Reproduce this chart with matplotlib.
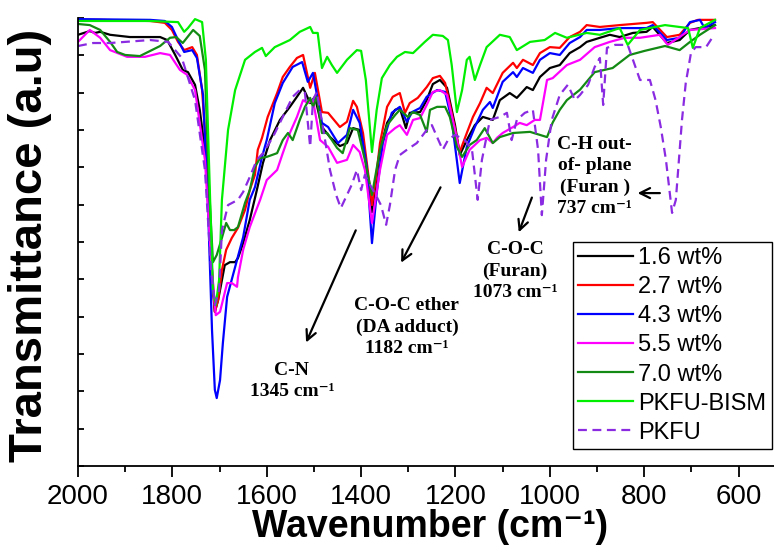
import matplotlib
matplotlib.use("Agg")
import matplotlib.pyplot as plt
from matplotlib.ticker import MultipleLocator

plt.rcParams['font.family'] = ['Liberation Sans', 'DejaVu Sans']

# FTIR spectra: wavenumber (cm-1) and transmittance (a.u.)
wn_16 = [2000, 1975, 1964, 1953, 1932, 1890, 1826, 1811, 1794, 1778, 1767, 1752, 1742, 1731, 1720,
         1714, 1710, 1703, 1699, 1689, 1678, 1667, 1661, 1650, 1636, 1621, 1608, 1593, 1572, 1551,
         1536, 1523, 1508, 1498, 1483, 1466, 1445, 1430, 1417, 1403, 1392, 1377, 1360, 1345, 1328,
         1318, 1305, 1297, 1275, 1261, 1248, 1233, 1218, 1201, 1191, 1176, 1159, 1142, 1121, 1106,
         1085, 1070, 1049, 1036, 1021, 1000, 979, 958, 936, 922, 894, 873, 852, 824, 795, 782, 752,
         725, 703, 650]
t_16 = [115.5, 116.5, 116.0, 116.3, 115.5, 114.9, 114.9, 114.1, 110.1, 106.1, 105.5, 102.1, 95.4, 84.7, 63.2,
        47.1, 41.3, 44.5, 47.1, 53.8, 54.6, 54.6, 55.7, 59.7, 65.9, 73.9, 81.2, 87.3, 92.7, 96.2,
        98.9, 101.3, 97.2, 98.9, 90.8, 88.1, 85.7, 86.5, 90.5, 90.0, 83.8, 68.0, 84.7, 91.9, 95.4,
        95.9, 90.5, 94.6, 94.8, 98.0, 102.3, 103.4, 101.3, 91.3, 83.3, 87.3, 91.3, 93.5, 92.7, 98.0,
        99.9, 98.6, 101.5, 100.7, 104.2, 106.6, 107.4, 110.6, 112.2, 113.6, 114.7, 115.5, 114.9, 116.0, 116.3, 117.6, 113.3,
        114.1, 116.8, 118.1]

wn_27 = [2000, 1953, 1847, 1816, 1801, 1788, 1775, 1758, 1748, 1737, 1727, 1716, 1710, 1703, 1695,
         1686, 1674, 1661, 1646, 1636, 1625, 1619, 1610, 1598, 1578, 1566, 1551, 1536, 1523, 1508,
         1498, 1483, 1470, 1445, 1430, 1417, 1409, 1396, 1386, 1377, 1369, 1360, 1345, 1333, 1318,
         1307, 1297, 1280, 1261, 1248, 1233, 1222, 1208, 1191, 1176, 1163, 1148, 1134, 1121, 1100,
         1078, 1070, 1057, 1036, 1021, 1000, 979, 958, 936, 922, 894, 852, 795, 782, 752, 725, 703,
         686, 650]
t_27 = [119.5, 119.5, 119.2, 118.7, 116.8, 113.6, 111.4, 112.2, 110.1, 100.7, 82.0, 52.5, 41.3, 44.5, 52.5,
        57.9, 61.1, 63.8, 68.6, 73.9, 78.0, 84.7, 87.9, 93.5, 99.9, 104.2, 106.9, 109.3, 110.1, 101.3,
        105.3, 94.8, 94.6, 90.8, 92.2, 97.8, 96.2, 89.2, 79.3, 69.9, 76.6, 86.5, 96.2, 98.9, 99.9,
        94.6, 97.2, 98.6, 101.5, 103.9, 104.5, 102.6, 94.6, 84.1, 89.2, 93.5, 97.2, 101.3, 99.9, 105.3,
        108.0, 106.6, 108.8, 107.4, 110.6, 112.2, 112.0, 114.9, 116.3, 118.1, 117.6, 118.1, 118.7, 118.9, 114.9, 115.5, 118.7,
        119.5, 119.5]

wn_43 = [2000, 1847, 1816, 1801, 1788, 1775, 1758, 1748, 1735, 1725, 1716, 1710, 1706, 1699, 1693,
         1684, 1667, 1650, 1636, 1625, 1610, 1600, 1583, 1566, 1545, 1525, 1513, 1502, 1483, 1470,
         1449, 1430, 1417, 1403, 1388, 1377, 1367, 1354, 1335, 1318, 1303, 1292, 1275, 1261, 1239,
         1222, 1208, 1191, 1176, 1159, 1142, 1127, 1121, 1100, 1078, 1070, 1057, 1036, 1021, 1000,
         979, 958, 936, 922, 894, 852, 795, 782, 752, 725, 703, 682, 672, 650]
t_43 = [119.7, 119.5, 119.2, 117.6, 114.1, 110.9, 111.4, 109.3, 99.4, 71.3, 36.4, 20.4, 18.2, 23.0, 32.9,
        45.3, 53.3, 61.3, 71.3, 74.7, 82.8, 87.3, 97.2, 102.6, 106.9, 108.2, 102.9, 105.3, 91.9, 90.8,
        86.5, 88.7, 95.4, 91.9, 80.1, 59.7, 73.1, 86.5, 94.6, 96.2, 92.2, 94.8, 95.9, 98.9, 100.7,
        100.2, 92.7, 75.8, 85.5, 90.8, 95.4, 97.5, 95.9, 102.9, 105.5, 104.2, 106.6, 105.3, 108.8, 110.6,
        110.1, 113.3, 114.9, 116.8, 116.8, 117.3, 117.3, 118.1, 114.1, 114.7, 118.9, 119.5, 117.3, 118.9]

wn_55 = [2000, 1975, 1953, 1932, 1896, 1858, 1826, 1805, 1784, 1769, 1752, 1731, 1718, 1708, 1699,
         1684, 1674, 1663, 1661, 1650, 1636, 1614, 1600, 1578, 1566, 1551, 1536, 1523, 1513, 1502,
         1487, 1470, 1451, 1430, 1417, 1403, 1392, 1377, 1360, 1345, 1328, 1318, 1303, 1290, 1275,
         1261, 1248, 1233, 1218, 1201, 1186, 1170, 1148, 1134, 1121, 1112, 1100, 1078, 1064, 1049,
         1032, 1021, 1006, 994, 964, 936, 905, 873, 841, 809, 767, 750, 703, 650]
t_55 = [113.6, 116.8, 114.7, 111.4, 109.6, 109.6, 110.6, 110.1, 106.1, 104.8, 100.7, 82.0, 55.2, 40.4, 41.3,
        49.0, 49.0, 48.0, 50.6, 57.9, 64.0, 71.3, 76.6, 79.3, 83.8, 89.2, 93.5, 98.0, 97.2, 98.0,
        87.3, 85.5, 81.2, 82.0, 86.0, 84.1, 79.3, 65.1, 79.3, 88.7, 90.5, 91.3, 88.7, 92.7, 93.2,
        96.7, 100.2, 100.7, 99.4, 90.0, 80.1, 84.7, 87.3, 87.9, 86.5, 87.9, 89.2, 90.8, 91.9, 91.3,
        92.7, 92.7, 103.4, 103.9, 107.4, 108.8, 112.2, 113.6, 114.7, 114.7, 115.5, 112.8, 116.8, 117.3]

wn_70 = [2000, 1975, 1953, 1932, 1917, 1900, 1869, 1826, 1805, 1792, 1778, 1756, 1742, 1731, 1723,
         1714, 1706, 1695, 1686, 1678, 1669, 1661, 1646, 1636, 1625, 1614, 1600, 1578, 1566, 1555,
         1545, 1530, 1519, 1508, 1502, 1494, 1483, 1472, 1451, 1439, 1424, 1407, 1392, 1377, 1360,
         1345, 1328, 1318, 1301, 1290, 1275, 1261, 1254, 1239, 1222, 1212, 1197, 1186, 1170, 1155,
         1138, 1121, 1106, 1078, 1042, 1006, 994, 979, 964, 936, 905, 867, 831, 799, 756, 725, 703,
         682, 650]
t_70 = [118.4, 118.1, 116.8, 113.6, 110.9, 110.1, 109.8, 112.5, 114.7, 114.9, 113.3, 116.8, 115.2, 106.1, 76.6,
        54.6, 56.5, 61.1, 65.1, 63.2, 63.2, 64.0, 70.5, 73.9, 80.1, 82.5, 82.8, 83.8, 87.3, 89.2,
        87.3, 92.7, 96.2, 98.6, 96.2, 98.9, 89.2, 89.2, 85.2, 83.8, 90.5, 90.0, 82.0, 72.6, 84.7,
        91.3, 94.0, 95.4, 93.5, 94.8, 94.0, 89.5, 95.4, 96.2, 96.2, 93.5, 85.5, 82.8, 86.0, 87.3,
        90.5, 86.5, 88.1, 89.2, 89.5, 88.1, 92.0, 95.4, 98.0, 100.8, 105.5, 106.6, 110.1, 111.2, 112.5, 111.4, 113.6,
        115.5, 118.1]

wn_bism = [2000, 1847, 1788, 1775, 1767, 1752, 1737, 1729, 1720, 1714, 1708, 1701, 1695, 1682, 1667,
           1646, 1625, 1610, 1602, 1583, 1551, 1530, 1508, 1502, 1492, 1483, 1472, 1462, 1451, 1430,
           1409, 1400, 1390, 1377, 1367, 1356, 1339, 1324, 1307, 1290, 1265, 1248, 1227, 1216, 1208,
           1197, 1186, 1176, 1170, 1159, 1148, 1134, 1106, 1085, 1070, 1042, 1011, 989, 964, 922,
           894, 852, 835, 809, 756, 707, 697, 682, 650]
t_bism = [119.2, 119.2, 118.9, 116.3, 117.3, 119.7, 118.9, 108.8, 71.3, 47.1, 43.1, 49.8, 71.3, 90.0, 100.7,
          108.8, 110.9, 112.0, 109.8, 112.2, 114.1, 116.3, 117.6, 116.0, 116.0, 106.6, 109.6, 107.4, 105.3, 108.8,
          111.4, 111.2, 103.4, 84.1, 95.4, 103.9, 107.4, 109.6, 110.9, 110.6, 113.6, 115.5, 115.2, 114.1, 107.4,
          94.8, 100.7, 108.8, 109.6, 103.4, 107.4, 112.2, 115.5, 114.9, 111.4, 113.6, 114.1, 116.0, 114.7, 116.0,
          115.5, 117.3, 112.8, 116.8, 118.1, 117.3, 112.0, 117.3, 119.5]

wn_pkfu = [2000, 1968, 1932, 1847, 1809, 1780, 1752, 1731, 1718, 1710, 1701, 1695, 1682, 1661, 1650,
           1636, 1621, 1608, 1587, 1566, 1545, 1530, 1519, 1508, 1502, 1494, 1481, 1466, 1453, 1443,
           1430, 1420, 1409, 1400, 1392, 1381, 1369, 1358, 1347, 1339, 1328, 1318, 1303, 1282, 1261,
           1250, 1239, 1227, 1216, 1201, 1180, 1165, 1153, 1144, 1127, 1106, 1091, 1081, 1070, 1053,
           1036, 1025, 1017, 1008, 996, 979, 962, 947, 936, 919, 905, 894, 887, 879, 862, 835, 809,
           788, 776, 765, 754, 741, 733, 720, 712, 701, 691, 669, 655]
t_pkfu = [112.5, 113.3, 113.3, 114.1, 113.6, 109.3, 98.0, 79.3, 52.5, 43.1, 47.1, 63.2, 69.9, 71.3, 73.4,
          77.4, 82.0, 83.8, 88.1, 93.5, 98.9, 100.7, 99.9, 85.5, 98.0, 100.2, 90.8, 79.3, 72.6, 69.1,
          72.6, 75.3, 79.3, 73.9, 78.0, 75.3, 72.6, 69.9, 64.6, 69.9, 79.3, 83.3, 84.7, 86.5, 90.0,
          91.3, 88.1, 84.7, 87.3, 88.7, 87.3, 84.7, 71.3, 82.0, 92.7, 93.5, 94.6, 87.3, 92.7, 94.6,
          95.4, 84.7, 67.2, 82.0, 92.7, 99.4, 102.1, 98.0, 99.4, 102.1, 106.9, 109.3, 96.7, 112.0, 112.8, 112.8, 103.4,
          103.4, 98.0, 90.8, 82.0, 67.8, 71.3, 92.7, 102.6, 110.6, 112.2, 112.2, 114.9]

series = [
    (wn_16, t_16, "1.6 wt%", "#000000", "-"),
    (wn_27, t_27, "2.7 wt%", "#FF0000", "-"),
    (wn_43, t_43, "4.3 wt%", "#0000FF", "-"),
    (wn_55, t_55, "5.5 wt%", "#FF00FF", "-"),
    (wn_70, t_70, "7.0 wt%", "#138A13", "-"),
    (wn_bism, t_bism, "PKFU-BISM", "#00EE00", "-"),
    (wn_pkfu, t_pkfu, "PKFU", "#8A2BE2", (0, (4, 2.5))),
]

fig = plt.figure(figsize=(7.74, 5.51), dpi=100)
ax = fig.add_axes([78 / 774, 85 / 551, 696 / 774, 448 / 551])

for wn, t, label, color, ls in series:
    ax.plot(wn, t, color=color, linestyle=ls, lw=1.6, label=label)

ax.set_xlim(2000, 525)
ax.set_ylim(0, 120)
ax.xaxis.set_major_locator(MultipleLocator(200))
ax.xaxis.set_minor_locator(MultipleLocator(100))
ax.yaxis.set_major_locator(MultipleLocator(10))
ax.tick_params(axis='x', which='major', direction='out', length=8, width=1.3, labelsize=20, pad=5)
ax.tick_params(axis='x', which='minor', direction='out', length=4, width=1.3)
ax.tick_params(axis='y', direction='in', length=4, width=1.3, labelleft=False)
for side in ['top', 'right']:
    ax.spines[side].set_visible(False)
for side in ['left', 'bottom']:
    ax.spines[side].set_linewidth(1.3)

ax.set_xlabel("Wavenumber (cm⁻¹)", fontsize=27, fontweight='bold')
ax.xaxis.set_label_coords(0.506, -0.097)
ax.set_ylabel("Transmittance (a.u)", fontsize=34, fontweight='bold')
ax.yaxis.set_label_coords(-0.037, 0.493)

# band assignments
serif = ['Liberation Serif', 'DejaVu Serif']
ann = dict(fontsize=14, fontweight='bold', family=serif, ha='center', va='center', linespacing=1.32)
arrow = dict(arrowstyle='->', color='black', lw=1.6, mutation_scale=18)

ax.annotate("", xy=(1519, 32.4), xytext=(1409, 63.8), arrowprops=arrow)
ax.text(1547, 22.8, "C-N\n1345 cm⁻¹", **ann)

ax.annotate("", xy=(1318, 53.8), xytext=(1229, 75.3), arrowprops=arrow)
ax.text(1303, 37.2, "C-O-C ether\n(DA adduct)\n1182 cm⁻¹", **ann)

ax.annotate("", xy=(1068, 61.9), xytext=(1036, 72.6), arrowprops=arrow)
ax.text(1074, 52.2, "C-O-C\n(Furan)\n1073 cm⁻¹", **ann)

ax.annotate("", xy=(820, 73.1), xytext=(761, 73.1), arrowprops=arrow)
ax.text(905, 77.5, "C-H out-\nof- plane\n(Furan )\n737 cm⁻¹", **ann)

leg = ax.legend(loc='upper left', bbox_to_anchor=(573 / 774, 1 - 242 / 551), bbox_transform=fig.transFigure,
                fontsize=17, frameon=True, fancybox=False, framealpha=1, edgecolor='black',
                borderaxespad=0, borderpad=0.22, handlelength=2.3, handletextpad=0.25, labelspacing=0.3)
leg.get_frame().set_linewidth(1.0)

fig.savefig("out.png", dpi=100)
